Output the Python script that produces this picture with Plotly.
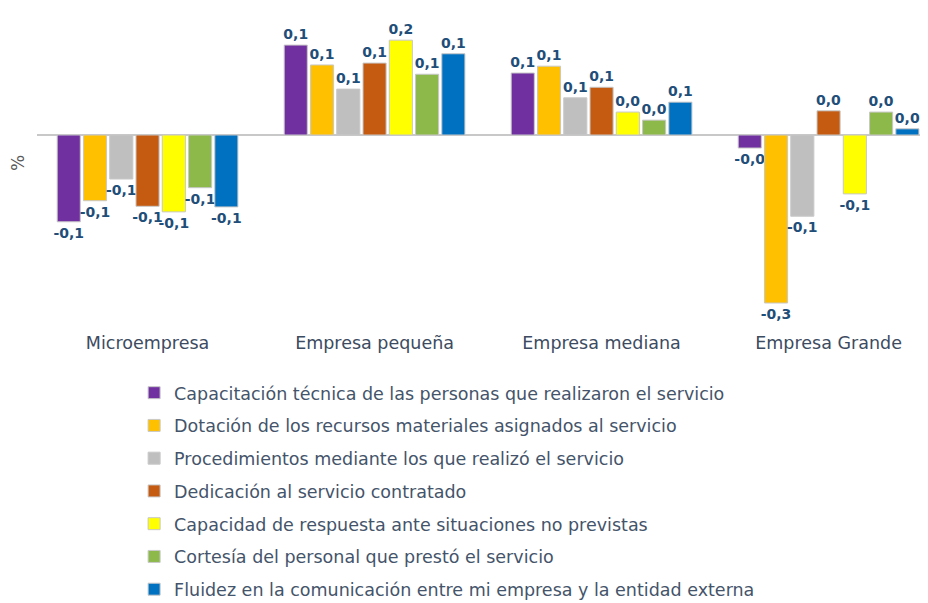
import plotly.graph_objects as go

categories = ["Microempresa", "Empresa pequeña", "Empresa mediana", "Empresa Grande"]

series_names = [
    "Capacitación técnica de las personas que realizaron el servicio",
    "Dotación de los recursos materiales asignados al servicio",
    "Procedimientos mediante los que realizó el servicio",
    "Dedicación al servicio contratado",
    "Capacidad de respuesta ante situaciones no previstas",
    "Cortesía del personal que prestó el servicio",
    "Fluidez en la comunicación entre mi empresa y la entidad externa",
]

capacitacion = [-0.140, 0.145, 0.100, -0.021]
dotacion = [-0.106, 0.113, 0.111, -0.271]
procedimientos = [-0.071, 0.074, 0.060, -0.131]
dedicacion = [-0.115, 0.116, 0.077, 0.039]
capacidad = [-0.124, 0.153, 0.037, -0.095]
cortesia = [-0.085, 0.098, 0.024, 0.037]
fluidez = [-0.116, 0.131, 0.053, 0.010]

series_values = [capacitacion, dotacion, procedimientos, dedicacion,
                 capacidad, cortesia, fluidez]

colors = ["#7030A0", "#FFC000", "#BFBFBF", "#C55A11", "#FFFF00", "#8DB84A", "#0070C0"]


def fmt(v):
    # Spanish decimal comma, one decimal like the source chart
    s = f"{v:.1f}".replace(".", ",")
    if v < 0 and s == "0,0":
        s = "-0,0"
    return s


fig = go.Figure()
for i, (name, vals, col) in enumerate(zip(series_names, series_values, colors)):
    fig.add_trace(go.Bar(
        x=categories, y=vals, name=name, legendgroup=f"g{i}",
        marker=dict(color=col, line=dict(color="#C8C8C8", width=1)),
        text=[fmt(v) for v in vals], textposition="outside",
        constraintext="none", cliponaxis=False,
        textfont=dict(family="DejaVu Sans", size=14, color="#1F4E79", weight="bold"),
    ))

fig.add_annotation(text="%", x=-0.0213, y=0.522, xref="paper", yref="paper",
                   xanchor="center", yanchor="middle",
                   showarrow=False, textangle=-90,
                   font=dict(family="DejaVu Sans", size=17, color="#595959"))

# the page body adds an 8px margin, so the figure is 8px smaller than the window
fig.update_layout(
    width=920, height=595,
    barmode="group", bargap=0.19, bargroupgap=0.12,
    paper_bgcolor="white", plot_bgcolor="white",
    font=dict(family="DejaVu Sans", color="#3C4B5F"),
    margin=dict(l=29, r=0, t=2, b=273, autoexpand=False),
    xaxis=dict(range=[-0.487, 3.438], showgrid=False, showline=False, ticks="",
               tickfont=dict(size=17.5, color="#3C4B5F")),
    yaxis=dict(range=[-0.3145, 0.2016], showgrid=False, showticklabels=False,
               zeroline=True, zerolinecolor="#C8C8C8", zerolinewidth=2),
    legend=dict(x=0.109, y=-0.14, xanchor="left", yanchor="top",
                traceorder="grouped", tracegroupgap=7,
                font=dict(size=17.5, color="#44546A")),
    showlegend=True,
)

fig.write_html("out.html")
